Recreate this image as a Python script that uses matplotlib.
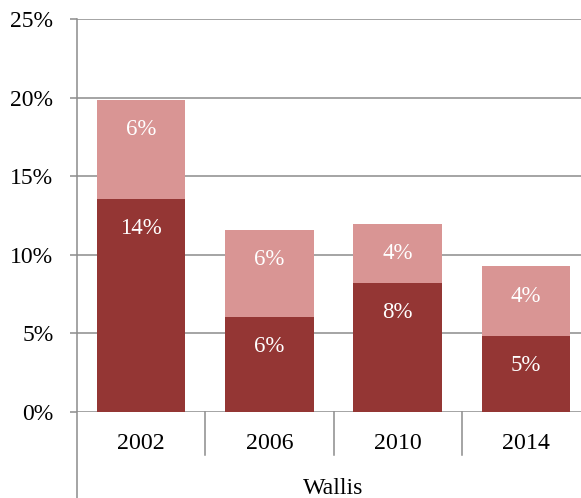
import matplotlib
matplotlib.use('Agg')
import matplotlib.pyplot as plt
import matplotlib.transforms as mtransforms

years = ['2002', '2006', '2010', '2014']
dark_vals = [13.55, 6.05, 8.21, 4.83]
light_vals = [6.34, 5.52, 3.75, 4.43]
group_label = 'Wallis'
yticks = [0, 5, 10, 15, 20, 25]

dark_col = '#943634'
light_col = '#d99594'
grid_col = '#8c8c8c'

plt.rcParams['font.family'] = ['Liberation Serif', 'DejaVu Serif']

W, H = 581, 498
fig = plt.figure(figsize=(W / 100, H / 100), dpi=100)
# plot area runs past the right edge, like the original (clipped)
x0, x1, y0, y1 = 77, 590, 411.5, 19.5
ax = fig.add_axes([x0 / W, 1 - y0 / H, (x1 - x0) / W, (y0 - y1) / H])

xs = range(len(years))
ax.bar(xs, dark_vals, width=0.69, color=dark_col, zorder=3)
ax.bar(xs, light_vals, width=0.69, bottom=dark_vals, color=light_col, zorder=3)

# labels a fixed distance under the top of each segment
for i in xs:
    top_d = dark_vals[i]
    top_l = dark_vals[i] + light_vals[i]
    for val, top in ((dark_vals[i], top_d), (light_vals[i], top_l)):
        ax.annotate('%d%%' % round(val), (i, top), xytext=(0, -21.5),
                    textcoords='offset points', ha='center', va='center',
                    color='white', fontsize=16.5, zorder=4)

ax.set_xlim(-0.5, 3.5)
ax.set_ylim(0, 25)
ax.set_yticks(yticks)
ax.set_yticklabels(['%d%%' % v for v in yticks], fontsize=17)
ax.tick_params(axis='y', length=5, width=1.1, color=grid_col, pad=12)
ax.set_xticks([])
ax.yaxis.grid(True, color=grid_col, linewidth=1.1, zorder=0)
for s in ['top', 'right', 'bottom']:
    ax.spines[s].set_visible(False)
ax.spines['left'].set_visible(False)

# left axis line, running down past the group label
ax.plot([0, 0], [1, -(H - y0) / (y0 - y1) - 0.01], transform=ax.transAxes,
        color=grid_col, linewidth=1.1, clip_on=False, zorder=5)

# category separators and year labels
trans = mtransforms.blended_transform_factory(ax.transData, ax.transAxes)
sep_y = -(455 - y0) / (y0 - y1)
for b in [0.5, 1.5, 2.5]:
    ax.plot([b, b], [0, sep_y], transform=trans, color=grid_col,
            linewidth=1.1, clip_on=False)
for i, yr in enumerate(years):
    ax.text(i, -(443 - y0) / (y0 - y1), yr, transform=trans, ha='center',
            va='center', fontsize=17.2)
ax.text(1.5, -(488 - y0) / (y0 - y1), group_label, transform=trans,
        ha='center', va='center', fontsize=17.2)

fig.savefig('out.png', dpi=100)
